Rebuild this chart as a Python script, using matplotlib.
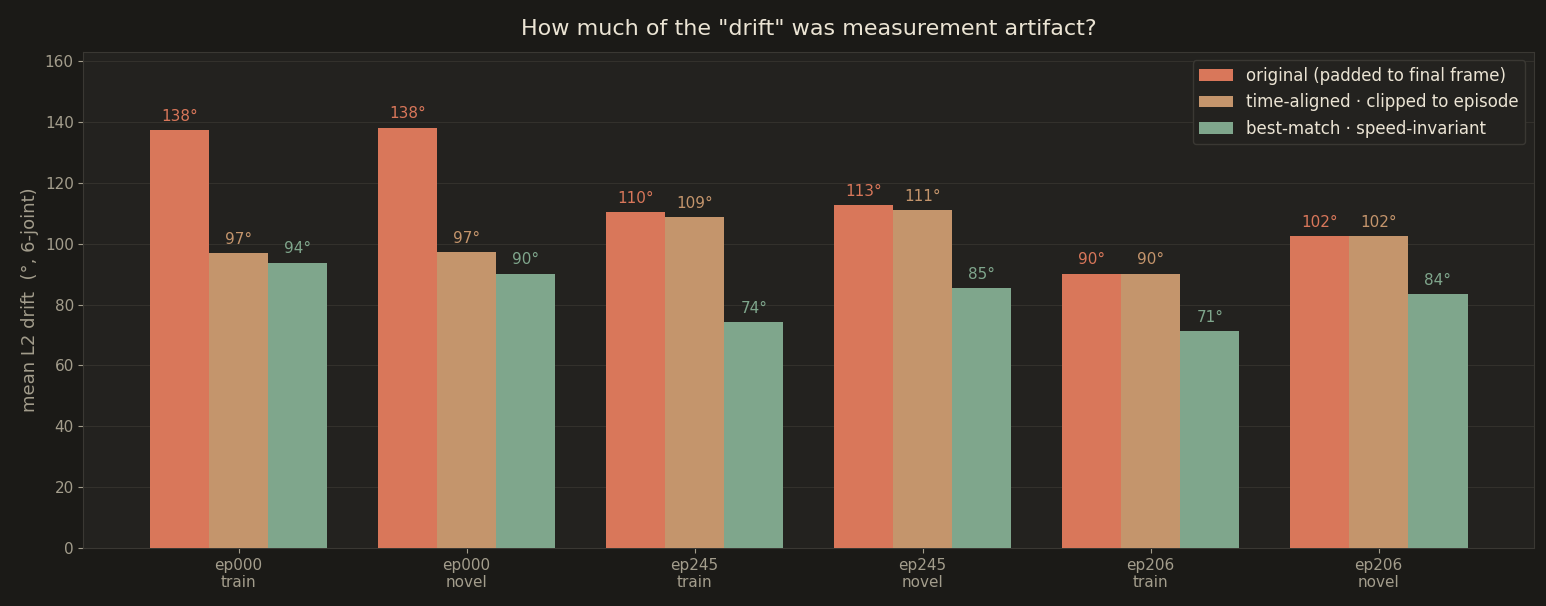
import matplotlib

matplotlib.use("Agg")

import matplotlib.pyplot as plt
import numpy as np

groups = ["ep000\ntrain", "ep000\nnovel", "ep245\ntrain", "ep245\nnovel", "ep206\ntrain", "ep206\nnovel"]
series_names = [
    "original (padded to final frame)",
    "time-aligned · clipped to episode",
    "best-match · speed-invariant",
]
original = [137.5, 138.2, 110.5, 112.8, 90.2, 102.5]
aligned = [96.8, 97.4, 108.9, 111.2, 90.2, 102.5]
best_match = [93.8, 90.2, 74.2, 85.3, 71.2, 83.6]

colors = ["#d9775a", "#c4956c", "#7fa68c"]
fig_bg = "#1b1a17"
ax_bg = "#23221f"
text_c = "#ebe4d4"
tick_c = "#a39d8c"

fig, ax = plt.subplots(figsize=(15.46, 6.06), dpi=100)
fig.patch.set_facecolor(fig_bg)
ax.set_facecolor(ax_bg)
fig.subplots_adjust(left=0.054, right=0.992, top=0.914, bottom=0.096)

x = np.arange(len(groups))
width = 0.26
for i, (name, vals) in enumerate(zip(series_names, [original, aligned, best_match])):
    pos = x + (i - 1) * width
    ax.bar(pos, vals, width, color=colors[i], label=name, zorder=3)
    for p, v in zip(pos, vals):
        ax.text(p, v + 2, f"{v:.0f}°", ha="center", va="bottom", color=colors[i], fontsize=11)

ax.set_xlim(-0.68, 5.68)
ax.set_ylim(0, 163)
ax.set_yticks(range(0, 161, 20))
ax.set_xticks(x)
ax.set_xticklabels(groups)
ax.tick_params(colors=tick_c, labelsize=11)
ax.grid(axis="y", color="#33312c", linewidth=0.8, zorder=0)
for s in ax.spines.values():
    s.set_color("#3a3833")
ax.set_ylabel("mean L2 drift  (°, 6-joint)", color=tick_c, fontsize=13)
ax.set_title('How much of the "drift" was measurement artifact?', color=text_c, fontsize=16, pad=12)

leg = ax.legend(loc="upper right", facecolor=ax_bg, edgecolor="#3a3833", fontsize=12, labelcolor=text_c)
leg.get_frame().set_alpha(1)

fig.savefig("out.png", dpi=100, facecolor=fig_bg)
